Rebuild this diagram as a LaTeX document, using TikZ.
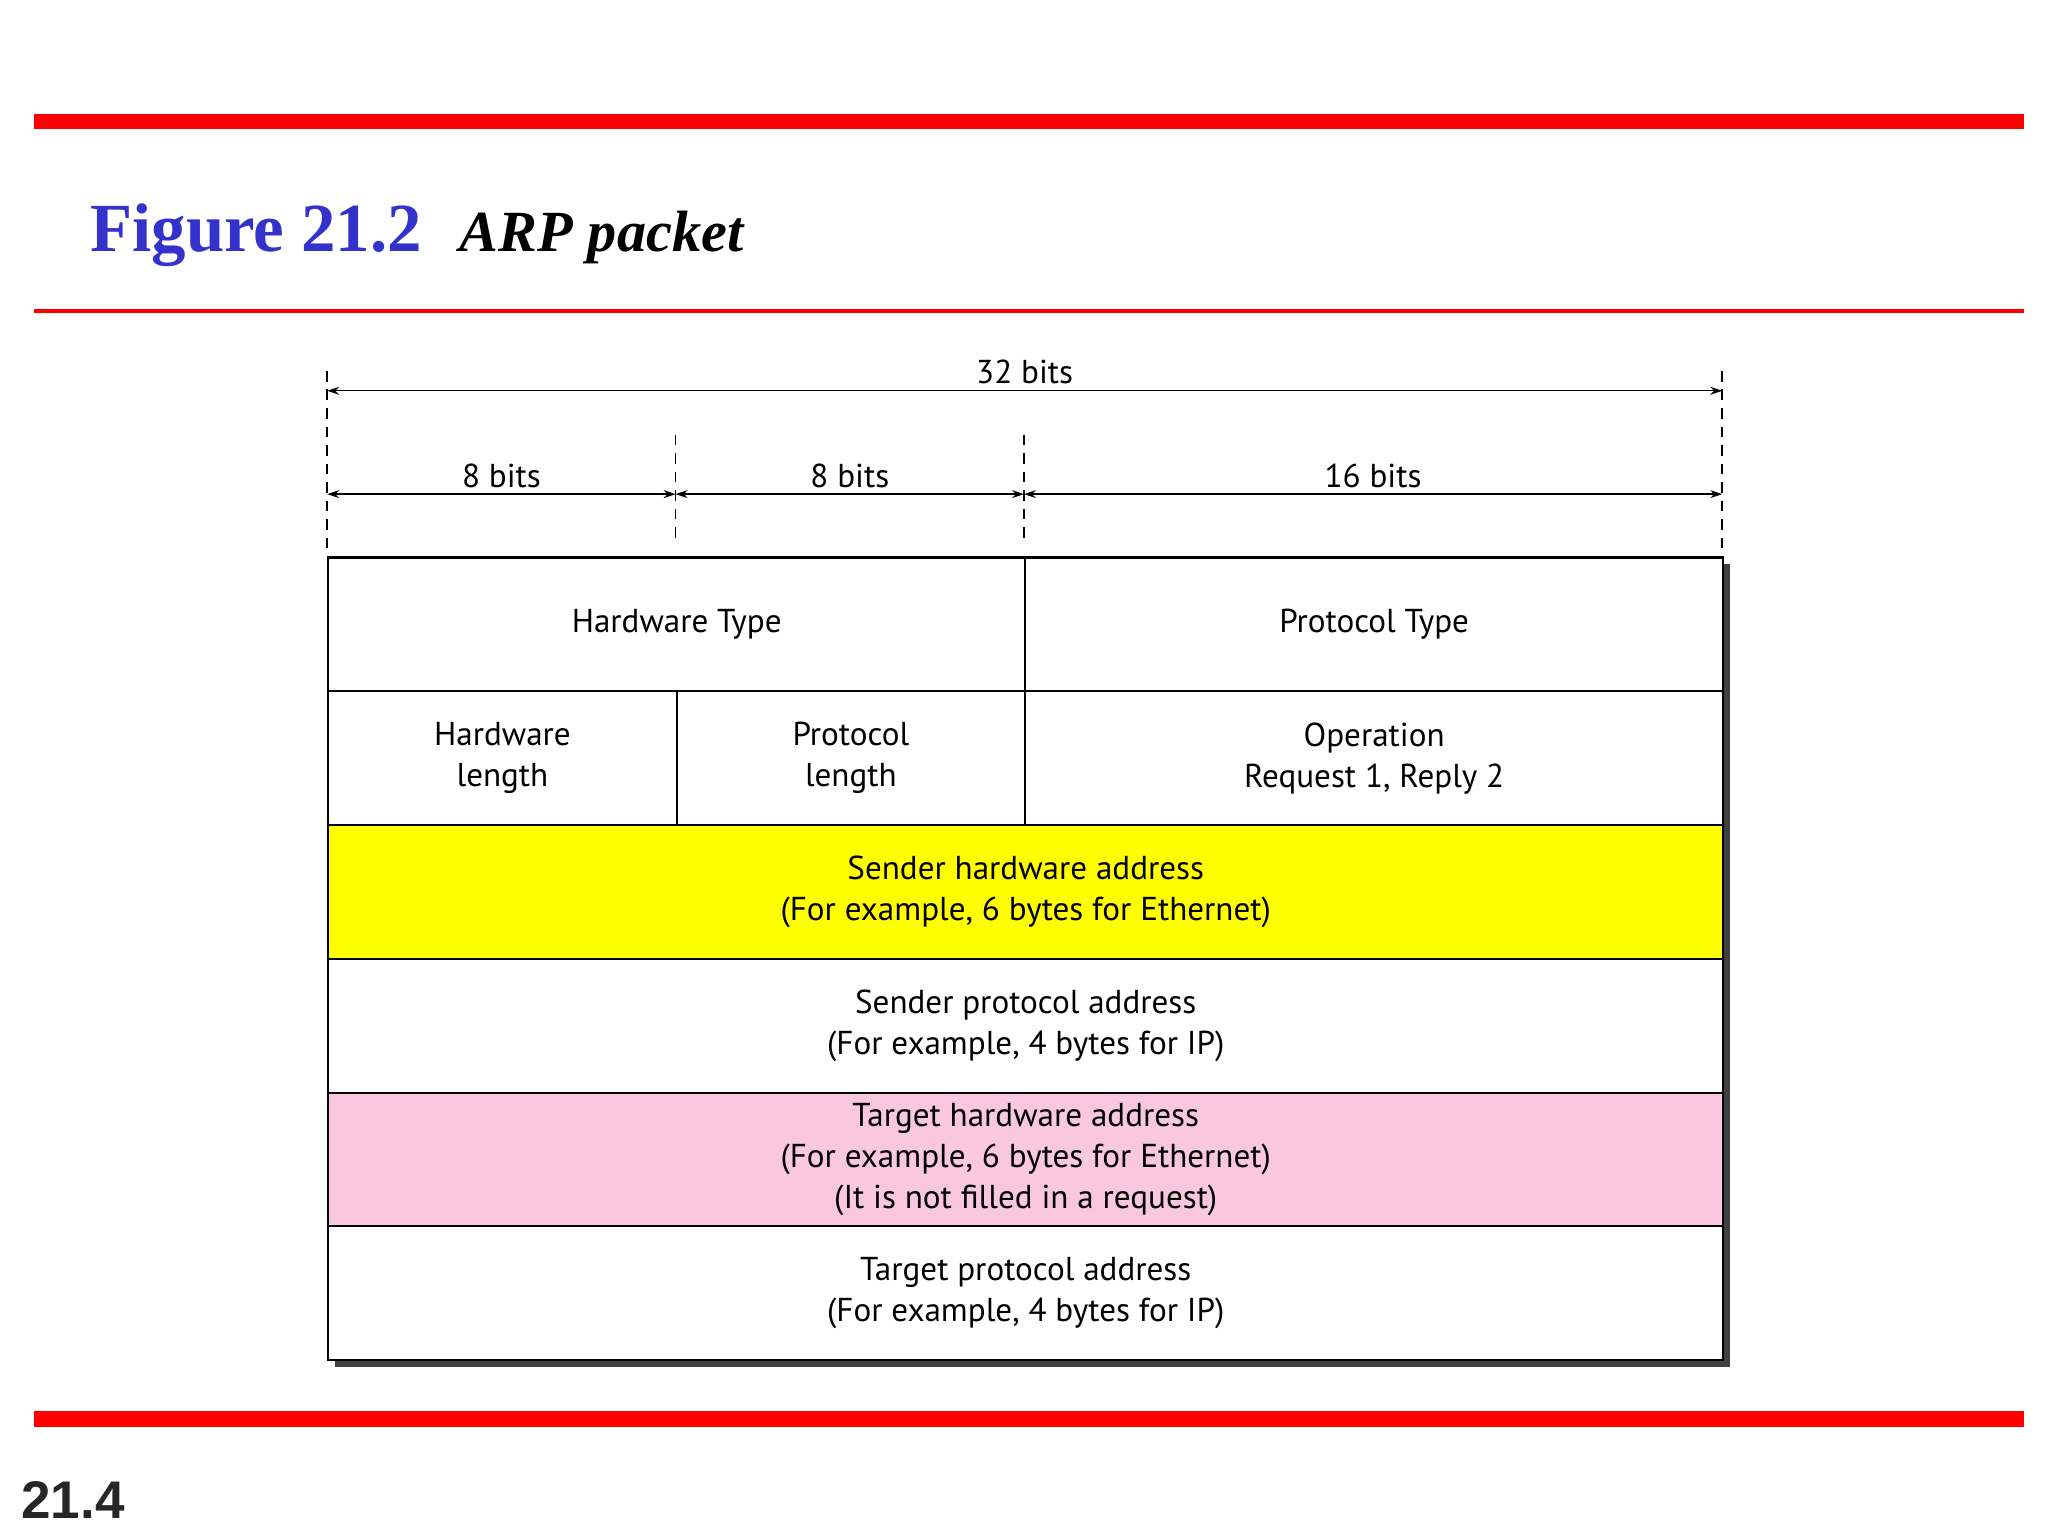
\documentclass[tikz,border=0pt]{standalone}
\usepackage{fontspec}
\setmainfont{Liberation Serif}
\newfontfamily\cellfont{PT Sans}
\newfontfamily\numfont{Liberation Sans}
\usetikzlibrary{arrows.meta}
\definecolor{titleblue}{HTML}{3333CC}
\definecolor{pinkcell}{HTML}{F9C8E0}
\definecolor{yel}{HTML}{FFFF00}
\tikzset{
 cell/.style={draw=black,line width=1.6pt,minimum width=#1,minimum height=101pt,inner sep=0pt,font=\cellfont\fontsize{25}{31}\selectfont,align=center},
 dim/.style={{Stealth[length=9pt,width=6pt]}-{Stealth[length=9pt,width=6pt]},line width=1pt},
 guide/.style={line width=1.2pt,dash pattern=on 8pt off 6pt},
 lbl/.style={font=\cellfont\fontsize{25}{30}\selectfont,anchor=south}
}
\begin{document}
\begin{tikzpicture}[x=1pt,y=-1pt]
\useasboundingbox (0,0) rectangle (1546,1159.5);
\fill[red] (26,86) rectangle (1528,97);
\fill[red] (26,233.5) rectangle (1528,236.5);
\fill[red] (26,1065) rectangle (1528,1077);
\node[anchor=base west,inner sep=0pt,text=titleblue,font=\bfseries\fontsize{52}{60}\selectfont] (fig) at (68,190) {Figure 21.2};
\node[anchor=base west,inner sep=0pt,font=\bfseries\itshape\fontsize{44}{52}\selectfont] (cap) at (347,190) {ARP packet};
\node[anchor=base west,inner sep=0pt,text=black!85,font=\numfont\bfseries\fontsize{40}{48}\selectfont] (pg) at (16,1146) {21.4};
% shadow
\fill[black!75] (253,426) rectangle (1306,1032);
% rows
\node[cell=527pt,anchor=north west,fill=white] (pt) at (773,420) {Protocol Type};
\fill[white] (247,420) rectangle (773,521);
\node[cell=526pt,anchor=north west] (ht) at (247,420) {Hardware Type};
\node[cell=263pt,anchor=north west,fill=white] (hl) at (247,521) {Hardware\\length};
\node[cell=263pt,anchor=north west,fill=white] (pl) at (510,521) {Protocol\\length};
\node[cell=527pt,anchor=north west,fill=white] (op) at (773,521) {Operation\\Request 1, Reply 2};
\node[cell=1053pt,anchor=north west,fill=yel] (sha) at (247,622) {Sender hardware address\\(For example, 6 bytes for Ethernet)};
\node[cell=1053pt,anchor=north west,fill=white] (spa) at (247,723) {Sender protocol address\\(For example, 4 bytes for IP)};
\node[cell=1053pt,anchor=north west,fill=pinkcell] (tha) at (247,824) {Target hardware address\\(For example, 6 bytes for Ethernet)\\(It is not filled in a request)};
\node[cell=1053pt,anchor=north west,fill=white] (tpa) at (247,925) {Target protocol address\\(For example, 4 bytes for IP)};
% guides
\coordinate (g0t) at (247,280); \coordinate (g0b) at (247,415);
\coordinate (g3t) at (1300,280); \coordinate (g3b) at (1300,415);
\coordinate (g1t) at (510,328); \coordinate (g1b) at (510,408);
\coordinate (g2t) at (773,328); \coordinate (g2b) at (773,408);
\draw[guide] (g0t)--(g0b); \draw[guide] (g3t)--(g3b);
\draw[guide] (g1t)--(g1b); \draw[guide] (g2t)--(g2b);
% dims
\coordinate (a0) at (247,295); \coordinate (a3) at (1300,295);
\draw[dim] (a0)--(a3) node[lbl,midway,above=1pt] (l32) {32 bits};
\coordinate (b0) at (247,373); \coordinate (b1) at (510,373);
\coordinate (b2) at (773,373); \coordinate (b3) at (1300,373);
\draw[dim] (b0)--(b1) node[lbl,midway,above=1pt] (l8a) {8 bits};
\draw[dim] (b1)--(b2) node[lbl,midway,above=1pt] (l8b) {8 bits};
\draw[dim] (b2)--(b3) node[lbl,midway,above=1pt] (l16) {16 bits};
\end{tikzpicture}
\end{document}
